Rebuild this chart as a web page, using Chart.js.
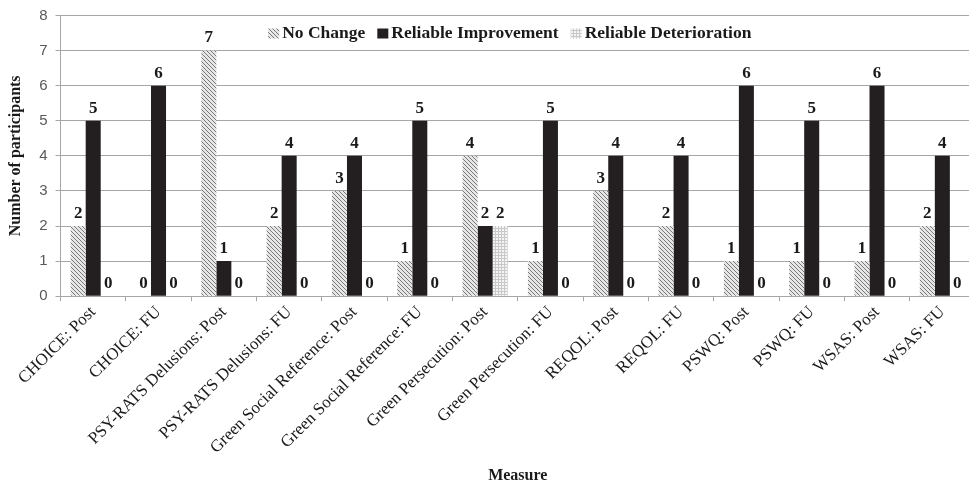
<!DOCTYPE html>
<html>
<head>
<meta charset="utf-8">
<script src="https://cdn.jsdelivr.net/npm/chart.js@4.4.1/dist/chart.umd.min.js"></script>
<style>
  html, body { margin: 0; padding: 0; background: #fff; overflow: hidden; }
  #wrap { width: 975px; height: 487px; }
</style>
</head>
<body>
<div id="wrap"><canvas id="grafico" width="975" height="487"></canvas></div>
<script>
const medidas = [
  'CHOICE: Post', 'CHOICE: FU', 'PSY-RATS Delusions: Post', 'PSY-RATS Delusions: FU',
  'Green Social Reference: Post', 'Green Social Reference: FU', 'Green Persecution: Post',
  'Green Persecution: FU', 'REQOL: Post', 'REQOL: FU', 'PSWQ: Post', 'PSWQ: FU',
  'WSAS: Post', 'WSAS: FU'
];
const sinCambio = [2, 0, 7, 2, 3, 1, 4, 1, 3, 2, 1, 1, 1, 2];
const mejora = [5, 6, 1, 4, 4, 5, 2, 5, 4, 4, 6, 5, 6, 4];
const deterioro = [0, 0, 0, 0, 0, 0, 2, 0, 0, 0, 0, 0, 0, 0];
const ticksY = [0, 1, 2, 3, 4, 5, 6, 7, 8];

const serif = "'Liberation Serif', 'Times New Roman', serif";

// patrones de relleno
function patronRayado() {
  const c = document.createElement('canvas');
  c.width = 4; c.height = 4;
  const g = c.getContext('2d');
  g.fillStyle = '#e6e6e6';
  g.fillRect(0, 0, 4, 4);
  g.strokeStyle = '#7a7a7a';
  g.lineWidth = 1;
  g.beginPath();
  g.moveTo(0, 0); g.lineTo(4, 4);
  g.moveTo(-1, 3); g.lineTo(1, 5);
  g.moveTo(3, -1); g.lineTo(5, 1);
  g.stroke();
  return g.createPattern(c, 'repeat');
}

function patronPuntos() {
  const c = document.createElement('canvas');
  c.width = 3; c.height = 3;
  const g = c.getContext('2d');
  g.fillStyle = '#f4f4f4';
  g.fillRect(0, 0, 3, 3);
  g.fillStyle = '#c8c8c8';
  g.fillRect(0, 0, 1, 3);
  g.fillRect(0, 0, 3, 1);
  return g.createPattern(c, 'repeat');
}

const etiquetasValores = {
  id: 'etiquetasValores',
  afterDatasetsDraw(chart) {
    const ctx = chart.ctx;
    ctx.save();
    ctx.font = "bold 17px " + serif;
    ctx.fillStyle = '#1a1a1a';
    ctx.textAlign = 'center';
    ctx.textBaseline = 'bottom';
    chart.data.datasets.forEach((ds, i) => {
      chart.getDatasetMeta(i).data.forEach((bar, j) => {
        ctx.fillText(String(ds.data[j]), bar.x, bar.y - 4);
      });
    });
    ctx.restore();
  }
};

// leyenda dentro del area del grafico, arriba y centrada
const leyendaInterna = {
  id: 'leyendaInterna',
  afterDraw(chart) {
    const ctx = chart.ctx;
    const area = chart.chartArea;
    ctx.save();
    ctx.font = "bold 17.5px " + serif;
    ctx.textBaseline = 'middle';
    const caja = 11, sep = 3, entre = 12;
    const items = chart.data.datasets.map(ds => ({ texto: ds.label, fondo: ds.backgroundColor }));
    let total = 0;
    items.forEach((it, k) => {
      it.ancho = ctx.measureText(it.texto).width;
      total += caja + sep + it.ancho + (k < items.length - 1 ? entre : 0);
    });
    let x = (area.left + area.right) / 2 - total / 2 - 8;
    const y = area.top + 18;
    items.forEach(it => {
      ctx.fillStyle = it.fondo;
      ctx.fillRect(x, y - 5, caja, 10);
      x += caja + sep;
      ctx.fillStyle = '#1a1a1a';
      ctx.fillText(it.texto, x, y);
      x += it.ancho + entre;
    });
    ctx.restore();
  }
};

const rayado = patronRayado();
const puntos = patronPuntos();

new Chart(document.getElementById('grafico').getContext('2d'), {
  type: 'bar',
  data: {
    labels: medidas,
    datasets: [
      { label: 'No Change', data: sinCambio, backgroundColor: rayado },
      { label: 'Reliable Improvement', data: mejora, backgroundColor: '#231f20' },
      { label: 'Reliable Deterioration', data: deterioro, backgroundColor: puntos }
    ]
  },
  options: {
    responsive: false,
    animation: false,
    categoryPercentage: 0.69,
    barPercentage: 1,
    layout: { padding: { top: 0, left: 6, right: 0, bottom: 2 } },
    plugins: {
      legend: { display: false },
      tooltip: { enabled: false }
    },
    scales: {
      x: {
        grid: { offset: true, drawOnChartArea: false, tickLength: 5, color: '#a6a6a6' },
        border: { color: '#a6a6a6' },
        ticks: {
          minRotation: 45,
          maxRotation: 45,
          autoSkip: false,
          color: '#1a1a1a',
          padding: 1,
          font: { family: serif, size: 17 }
        },
        title: {
          display: true,
          text: 'Measure',
          color: '#1a1a1a',
          padding: { top: 7, bottom: 0 },
          font: { family: serif, size: 16, weight: 'bold' }
        }
      },
      y: {
        min: 0,
        max: 8,
        afterBuildTicks: axis => { axis.ticks = ticksY.map(v => ({ value: v })); },
        grid: { color: '#a6a6a6', tickLength: 5 },
        border: { color: '#a6a6a6' },
        ticks: {
          color: '#595959',
          padding: 8,
          font: { family: "'Liberation Sans', Arial, sans-serif", size: 15, lineHeight: 1.0 }
        },
        title: {
          display: true,
          text: 'Number of participants',
          color: '#1a1a1a',
          padding: { top: 0, bottom: 6 },
          font: { family: serif, size: 16, weight: 'bold' }
        }
      }
    }
  },
  plugins: [etiquetasValores, leyendaInterna]
});
</script>
</body>
</html>
